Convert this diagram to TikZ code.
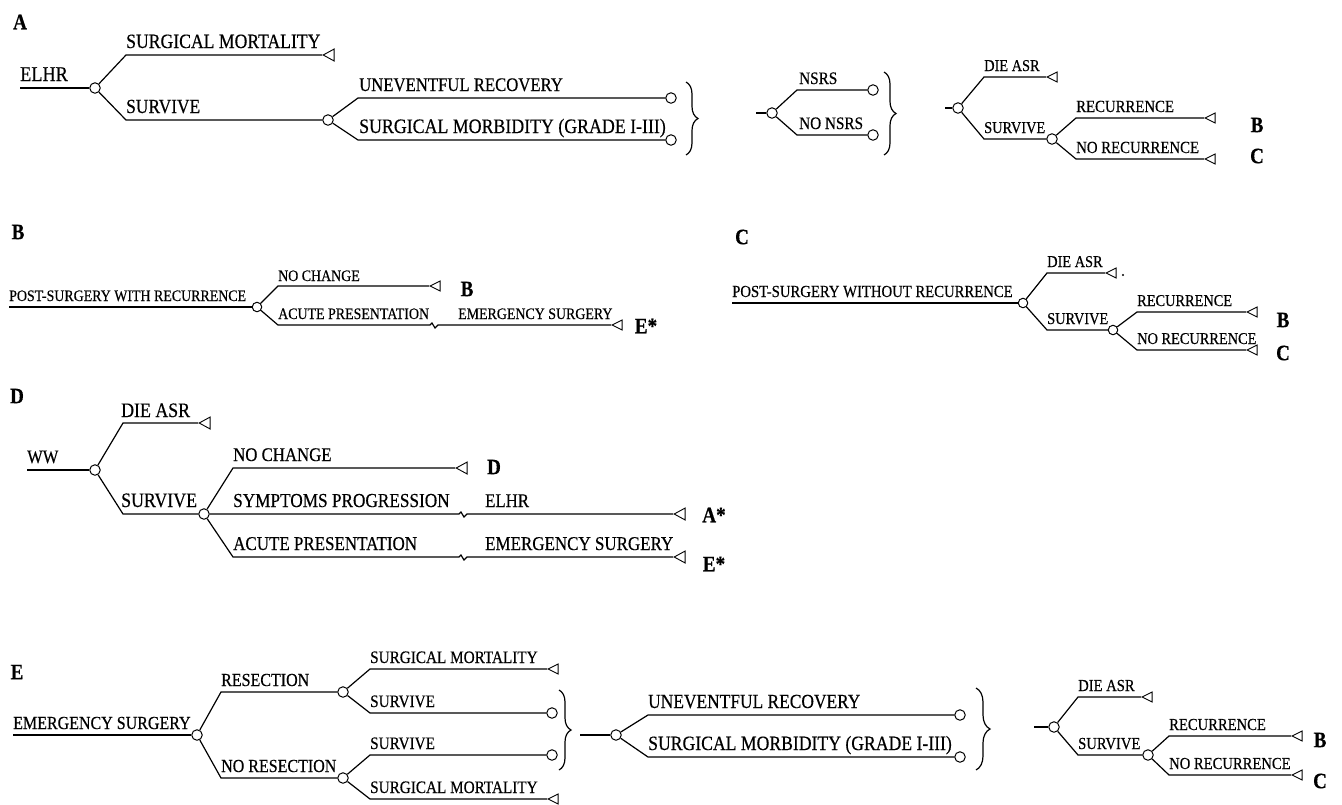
\documentclass[tikz,border=0pt]{standalone}
\usepackage{fontspec}
\setmainfont[FakeStretch=0.87,FakeBold=0.4]{Liberation Serif}
\usetikzlibrary{shapes.geometric,decorations.pathreplacing}
\tikzset{
  chance/.style={circle, draw, line width=1pt, minimum size=10.5pt, inner sep=0pt, fill=white},
  chs/.style={chance, minimum size=9.5pt},
  term/.style={isosceles triangle, isosceles triangle stretches, shape border rotate=180, draw, line width=0.9pt, minimum width=12pt, minimum height=11pt, inner sep=0pt, anchor=apex},
  terms/.style={term, minimum width=10pt, minimum height=10pt},
  txt/.style={anchor=base west, inner sep=0pt, font=\fontsize{#1}{#1}\selectfont},
  plabel/.style={inner sep=0pt, font=\bfseries\fontsize{22}{22}\selectfont},
  br/.style={decorate, decoration={brace, amplitude=#1}, line width=1.2pt},
  conn/.style={line width=1.2pt},
}
\begin{document}
\begin{tikzpicture}[x=1pt,y=-1pt]
\useasboundingbox[fill=white] (0,0) rectangle (1342,804);
%================ A =================
\node[plabel] (LA) at (20,22) {A};
\coordinate (As) at (20,88);
\node[chance] (A1) at (95,88) {};
\coordinate (A1u) at (126,55);
\coordinate (A1d) at (126,120);
\node[term] (At1) at (322,55) {};
\node[chance] (A2) at (328,120) {};
\coordinate (A2u) at (358,98);
\coordinate (A2d) at (358,140);
\node[chance] (A3) at (671,98) {};
\node[chance] (A4) at (671,140) {};
\draw[conn] (As) -- (A1);
\draw[conn] (A1) -- (A1u) -- (At1.apex);
\draw[conn] (A1) -- (A1d) -- (A2);
\draw[conn] (A2) -- (A2u) -- (A3);
\draw[conn] (A2) -- (A2d) -- (A4);
\node[txt=21] (tA0) at (20,81) {ELHR};
\node[txt=20.3] (tA1) at (126,48) {SURGICAL MORTALITY};
\node[txt=20] (tA2) at (126,113) {SURVIVE};
\node[txt=19.2] (tA3) at (359,91) {UNEVENTFUL RECOVERY};
\node[txt=20.5] (tA4) at (359,133) {SURGICAL MORBIDITY (GRADE I-III)};
\draw[br=12pt] (686,82) -- (686,155);
% middle
\coordinate (Ms) at (756,113);
\node[chance] (M1) at (772,113) {};
\coordinate (M1u) at (797,90);
\coordinate (M1d) at (797,135);
\node[chance] (M2) at (873,90) {};
\node[chance] (M3) at (873,135) {};
\draw[conn] (Ms) -- (M1);
\draw[conn] (M1) -- (M1u) -- (M2);
\draw[conn] (M1) -- (M1d) -- (M3);
\node[txt=17.5] (tM1) at (799,84) {NSRS};
\node[txt=17.5] (tM2) at (799,129) {NO NSRS};
\draw[br=12pt] (884,72) -- (884,155);
% right
\coordinate (Rs) at (945,108);
\node[chance] (R1) at (958,108) {};
\coordinate (R1u) at (984,77);
\coordinate (R1d) at (984,139);
\node[terms] (Rt1) at (1046,77) {};
\node[chance] (R2) at (1052,139) {};
\coordinate (R2u) at (1076,118);
\coordinate (R2d) at (1076,159);
\node[terms] (Rt2) at (1204,118) {};
\node[terms] (Rt3) at (1204,159) {};
\draw[conn] (Rs) -- (R1);
\draw[conn] (R1) -- (R1u) -- (Rt1.apex);
\draw[conn] (R1) -- (R1d) -- (R2);
\draw[conn] (R2) -- (R2u) -- (Rt2.apex);
\draw[conn] (R2) -- (R2d) -- (Rt3.apex);
\node[txt=16.5] (tR1) at (984,71) {DIE ASR};
\node[txt=16.5] (tR2) at (984,133) {SURVIVE};
\node[txt=17] (tR3) at (1076,112) {RECURRENCE};
\node[txt=17] (tR4) at (1076,153) {NO RECURRENCE};
\node[plabel] (RB) at (1257,125) {B};
\node[plabel] (RC) at (1257,156) {C};
%================ B =================
\node[plabel] (LB) at (18,232) {B};
\coordinate (Bs) at (9,307);
\node[chs] (B1) at (257,307) {};
\coordinate (B1u) at (278,286);
\coordinate (B1d) at (278,325);
\node[terms] (Bt1) at (429,286) {};
\node[terms] (Bt2) at (611,325) {};
\coordinate (Bz) at (434,325);
\draw[conn] (Bs) -- (B1);
\draw[conn] (B1) -- (B1u) -- (Bt1.apex);
\draw[conn] (B1) -- (B1d) -- ([xshift=-4pt]Bz) -- ++(2,-2) -- ++(3,5) -- ++(3,-3) -- (Bt2.apex);
\node[txt=16] (tB0) at (9,301) {POST-SURGERY WITH RECURRENCE};
\node[txt=16] (tB1) at (278,281) {NO CHANGE};
\node[txt=16] (tB2) at (278,319) {ACUTE PRESENTATION};
\node[txt=16] (tB3) at (458,319) {EMERGENCY SURGERY};
\node[plabel] (BB) at (467,289) {B};
\node[plabel] (BE) at (646,326) {E*};
%================ C =================
\node[plabel] (LC) at (742,237) {C};
\coordinate (Cs) at (732,303);
\node[chs] (C1) at (1023,303) {};
\coordinate (C1u) at (1047,273);
\coordinate (C1d) at (1047,330);
\node[terms] (Ct1) at (1105,273) {};
\node[chs] (C2) at (1113,330) {};
\coordinate (C2u) at (1137,312);
\coordinate (C2d) at (1137,350);
\node[terms] (Ct2) at (1246,312) {};
\node[terms] (Ct3) at (1246,350) {};
\draw[conn] (Cs) -- (C1);
\draw[conn] (C1) -- (C1u) -- (Ct1.apex);
\draw[conn] (C1) -- (C1d) -- (C2);
\draw[conn] (C2) -- (C2u) -- (Ct2.apex);
\draw[conn] (C2) -- (C2d) -- (Ct3.apex);
\node[circle, fill, inner sep=0.8pt] (Cdot) at (1123,275) {};
\node[txt=16.9] (tC0) at (732,297) {POST-SURGERY WITHOUT RECURRENCE};
\node[txt=16.5] (tC1) at (1047,267) {DIE ASR};
\node[txt=16.5] (tC2) at (1047,324) {SURVIVE};
\node[txt=16.5] (tC3) at (1137,306) {RECURRENCE};
\node[txt=16.5] (tC4) at (1137,344) {NO RECURRENCE};
\node[plabel] (CB) at (1283,320) {B};
\node[plabel] (CC) at (1283,353) {C};
%================ D =================
\node[plabel] (LD) at (17,396) {D};
\coordinate (Ds) at (27,470);
\node[chance] (D1) at (95,470) {};
\coordinate (D1u) at (123,423);
\coordinate (D1d) at (123,514);
\node[term] (Dt0) at (198,423) {};
\node[chance] (D2) at (204,514) {};
\coordinate (D2u) at (233,468);
\coordinate (D2d) at (233,557);
\node[term] (Dt1) at (455,468) {};
\node[term] (Dt2) at (673,514) {};
\node[term] (Dt3) at (673,557) {};
\coordinate (Dz2) at (463,514);
\coordinate (Dz3) at (463,557);
\draw[conn] (Ds) -- (D1);
\draw[conn] (D1) -- (D1u) -- (Dt0.apex);
\draw[conn] (D1) -- (D1d) -- (D2);
\draw[conn] (D2) -- (D2u) -- (Dt1.apex);
\draw[conn] (D2) -- ([xshift=-4pt]Dz2) -- ++(2,-2) -- ++(3,5) -- ++(3,-3) -- (Dt2.apex);
\draw[conn] (D2) -- (D2d) -- ([xshift=-4pt]Dz3) -- ++(2,-2) -- ++(3,5) -- ++(3,-3) -- (Dt3.apex);
\node[txt=19] (tD0) at (27,463) {WW};
\node[txt=20.5] (tD1) at (121,417) {DIE ASR};
\node[txt=20.5] (tD2) at (121,507) {SURVIVE};
\node[txt=19.3] (tD3) at (233,461) {NO CHANGE};
\node[txt=19.8] (tD4) at (233,507) {SYMPTOMS PROGRESSION};
\node[txt=19.3] (tD5) at (485,507) {ELHR};
\node[txt=19.5] (tD6) at (233,550) {ACUTE PRESENTATION};
\node[txt=19.5] (tD7) at (485,550) {EMERGENCY SURGERY};
\node[plabel] (DD) at (494,467) {D};
\node[plabel] (DA) at (714,515) {A*};
\node[plabel] (DE) at (714,564) {E*};
%================ E =================
\node[plabel] (LE) at (17,672) {E};
\coordinate (Es) at (13,735);
\node[chance] (E1) at (197,735) {};
\coordinate (E1u) at (221,692);
\coordinate (E1d) at (221,778);
\node[chance] (E2) at (343,692) {};
\node[chance] (E3) at (343,778) {};
\coordinate (E2u) at (370,669);
\coordinate (E2d) at (370,713);
\coordinate (E3u) at (370,755);
\coordinate (E3d) at (370,799);
\node[terms] (Et1) at (547,669) {};
\node[chance] (E4) at (552,713) {};
\node[chance] (E5) at (552,755) {};
\node[terms] (Et2) at (547,799) {};
\draw[conn] (Es) -- (E1);
\draw[conn] (E1) -- (E1u) -- (E2);
\draw[conn] (E1) -- (E1d) -- (E3);
\draw[conn] (E2) -- (E2u) -- (Et1.apex);
\draw[conn] (E2) -- (E2d) -- (E4);
\draw[conn] (E3) -- (E3u) -- (E5);
\draw[conn] (E3) -- (E3d) -- (Et2.apex);
\node[txt=18.4] (tE0) at (13,729) {EMERGENCY SURGERY};
\node[txt=18.4] (tE1) at (221,686) {RESECTION};
\node[txt=18.4] (tE2) at (221,772) {NO RESECTION};
\node[txt=17.5] (tE3) at (370,663) {SURGICAL MORTALITY};
\node[txt=17.5] (tE4) at (370,707) {SURVIVE};
\node[txt=17.5] (tE5) at (370,749) {SURVIVE};
\node[txt=17.5] (tE6) at (370,793) {SURGICAL MORTALITY};
\draw[br=12pt] (559,690) -- (559,770);
% middle
\coordinate (EMs) at (580,735);
\node[chance] (E6) at (616,735) {};
\coordinate (E6u) at (648,715);
\coordinate (E6d) at (648,757);
\node[chance] (E7) at (960,715) {};
\node[chance] (E8) at (960,757) {};
\draw[conn] (EMs) -- (E6);
\draw[conn] (E6) -- (E6u) -- (E7);
\draw[conn] (E6) -- (E6d) -- (E8);
\node[txt=20] (tE7) at (648,708) {UNEVENTFUL RECOVERY};
\node[txt=20.3] (tE8) at (648,750) {SURGICAL MORBIDITY (GRADE I-III)};
\draw[br=14pt] (976,688) -- (976,770);
% right
\coordinate (ERs) at (1034,727);
\node[chance] (E9) at (1054,727) {};
\coordinate (E9u) at (1078,697);
\coordinate (E9d) at (1078,755);
\node[terms] (Et3) at (1141,697) {};
\node[chance] (E10) at (1148,755) {};
\coordinate (E10u) at (1169,736);
\coordinate (E10d) at (1169,775);
\node[terms] (Et4) at (1291,736) {};
\node[terms] (Et5) at (1291,775) {};
\draw[conn] (ERs) -- (E9);
\draw[conn] (E9) -- (E9u) -- (Et3.apex);
\draw[conn] (E9) -- (E9d) -- (E10);
\draw[conn] (E10) -- (E10u) -- (Et4.apex);
\draw[conn] (E10) -- (E10d) -- (Et5.apex);
\node[txt=16.8] (tE9) at (1078,691) {DIE ASR};
\node[txt=16.8] (tE10) at (1078,749) {SURVIVE};
\node[txt=16.8] (tE11) at (1169,730) {RECURRENCE};
\node[txt=16.8] (tE12) at (1169,769) {NO RECURRENCE};
\node[plabel] (EB) at (1320,740) {B};
\node[plabel] (EC) at (1320,781) {C};
\end{tikzpicture}
\end{document}
